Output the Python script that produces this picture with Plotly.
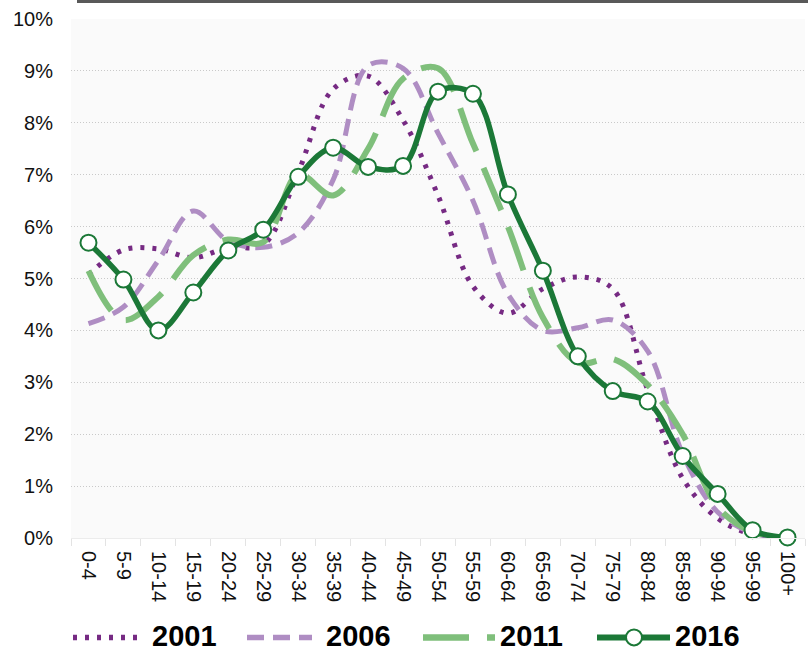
import plotly.graph_objects as go

ages = ["0-4", "5-9", "10-14", "15-19", "20-24", "25-29", "30-34", "35-39", "40-44",
        "45-49", "50-54", "55-59", "60-64", "65-69", "70-74", "75-79", "80-84",
        "85-89", "90-94", "95-99", "100+"]

y2001 = [5.08, 5.55, 5.57, 5.40, 5.60, 5.65, 7.05, 8.65, 8.90, 8.05, 6.60, 4.85,
         4.33, 4.80, 5.03, 4.80, 2.85, 1.15, 0.38, 0.07, 0.01]
y2006 = [4.13, 4.45, 5.35, 6.30, 5.72, 5.60, 5.88, 6.90, 9.10, 9.05, 7.80, 6.50,
         4.70, 4.00, 4.05, 4.20, 3.60, 1.62, 0.50, 0.10, 0.02]
y2011 = [5.15, 4.20, 4.65, 5.45, 5.75, 5.70, 7.00, 6.60, 7.50, 8.85, 9.05, 7.60,
         6.00, 4.25, 3.38, 3.45, 2.95, 2.00, 0.60, 0.12, 0.02]
y2016 = [5.69, 4.98, 4.00, 4.73, 5.54, 5.94, 6.96, 7.52, 7.15, 7.17, 8.60, 8.56,
         6.62, 5.15, 3.50, 2.83, 2.63, 1.58, 0.85, 0.15, 0.01]

years = ["2001", "2006", "2011", "2016"]
colors = ["#762a83", "#af8dc3", "#7fbf7b", "#1b7837"]
dashes = ["4px,8px", "17px,9px", "46px,18px", "solid"]
widths = [5, 5, 6, 5.5]
series = [y2001, y2006, y2011, y2016]

W, H = 808, 651
L, R, T, B = 71, 3, 19, 112.5
pw = W - L - R
ph = H - T - B

fig = go.Figure()
for yr, vals, c, d, w in zip(years, series, colors, dashes, widths):
    kw = {}
    if yr == "2016":
        mode = "lines+markers"
        kw["marker"] = dict(size=16, color="white", line=dict(color=c, width=2))
    else:
        mode = "lines"
    fig.add_trace(go.Scatter(
        x=ages, y=vals, name=yr, mode=mode,
        line=dict(color=c, width=w, dash=d, shape="spline", smoothing=1.0),
        cliponaxis=False, hoverinfo="skip", **kw))


def px_x(p):
    return (p - L) / pw


def px_y(p):
    return (H - B - p) / ph


shapes = [dict(type="rect", xref="paper", yref="paper",
               x0=px_x(77), x1=px_x(808), y0=px_y(3), y1=px_y(0),
               fillcolor="#595959", line=dict(width=0), layer="above")]

leg_y = px_y(638)
txt_y = px_y(637)
leg_lines = [(73, 140), (247, 312), (423, 495), (597, 670)]
leg_text_x = [150, 324, 498, 673]
annotations = []
for (a, b), tx, yr, c, d, w in zip(leg_lines, leg_text_x, years, colors, dashes, widths):
    shapes.append(dict(type="line", xref="paper", yref="paper",
                       x0=px_x(a), x1=px_x(b), y0=leg_y, y1=leg_y,
                       line=dict(color=c, width=w + 0.5, dash=d)))
    annotations.append(dict(xref="paper", yref="paper", x=px_x(tx), y=txt_y,
                            text="<b>" + yr + "</b>", showarrow=False,
                            xanchor="left", yanchor="middle",
                            font=dict(size=29, color="#000000",
                                      family="Liberation Sans, Arial")))
shapes.append(dict(type="circle", xref="paper", yref="paper",
                   xsizemode="pixel", ysizemode="pixel",
                   xanchor=px_x(634), yanchor=leg_y,
                   x0=-8, x1=8, y0=-8, y1=8,
                   fillcolor="white", line=dict(color=colors[3], width=2)))

fig.update_layout(
    width=W, height=H,
    margin=dict(l=L, r=R, t=T, b=B, pad=0),
    paper_bgcolor="white",
    plot_bgcolor="#fafafa",
    showlegend=False,
    font=dict(family="Liberation Sans, Arial", color="#000000"),
    shapes=shapes,
    annotations=annotations,
    xaxis=dict(type="category", range=[-0.5, 20.5], tickson="boundaries",
               ticks="outside", ticklen=7, tickcolor="#e3e3e3", tickwidth=1,
               showgrid=False, showline=True, linecolor="#ececec", linewidth=1,
               tickangle=90, tickfont=dict(size=20, color="#111111"),
               ticklabelstandoff=8,
               zeroline=False),
    yaxis=dict(range=[0, 10], dtick=1, tick0=0, ticksuffix="%",
               showgrid=True, gridcolor="#c9c9c9", griddash="1px,2px", gridwidth=1,
               zeroline=False, ticks="", showline=False,
               ticklabelstandoff=17,
               tickfont=dict(size=20, color="#111111")),
)

fig.write_html("out.html", config={"displayModeBar": False},
               post_script="document.body.style.margin='0px';")
